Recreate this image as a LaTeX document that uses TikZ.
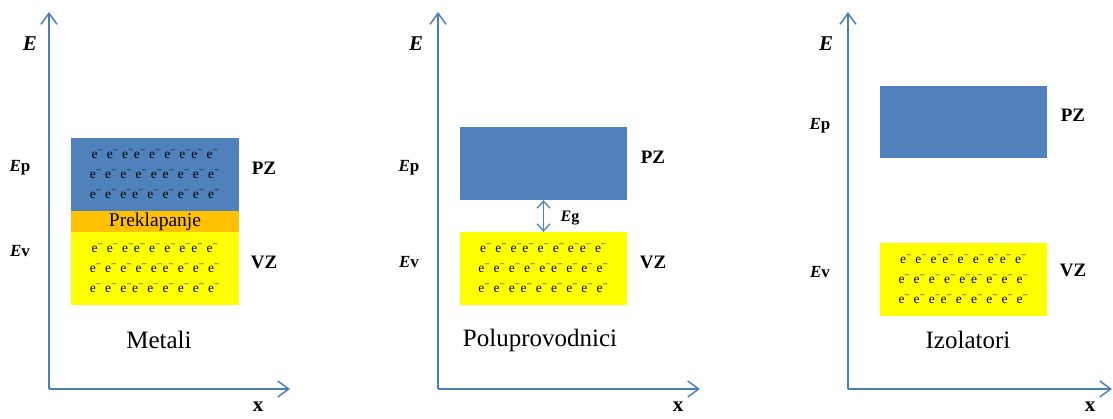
\documentclass[tikz,border=0pt]{standalone}
\usepackage{fontspec}
\setmainfont{Liberation Serif}
\usetikzlibrary{arrows.meta}
\definecolor{axiscol}{HTML}{4A7EBB}
\definecolor{bandblue}{HTML}{4F81BD}
\definecolor{ovlorange}{HTML}{FFC000}
\definecolor{valyellow}{HTML}{FFFF00}
\newcommand\el{e\textsuperscript{−}}
\newcommand\rowA{\el\ \el\ \el\el\ \el\ \el\ \el\el\ \el}
\newcommand\rowB{\el\ \el\ \el\ \el\ \el\el\ \el\ \el\ \el}
\newcommand\rowC{\el\ \el\ \el\el\ \el\ \el\ \el\ \el\ \el}
\newcommand\elrows{\rowA\\\rowB\\\rowC}
\begin{document}
\begin{tikzpicture}[x=1pt,y=-1pt,
  axisline/.style={draw=axiscol, line width=1.5pt, -{Straight Barb[length=11pt,width=16pt,line width=1.5pt]}},
  gaparrow/.style={draw=axiscol, line width=1.3pt, {Straight Barb[length=7pt,width=13pt,line width=1.3pt]}-{Straight Barb[length=7pt,width=13pt,line width=1.3pt]}},
  bandbox/.style={inner sep=0pt, minimum width=168pt, minimum height=73pt, align=center,
    font=\fontsize{13.5}{20}\selectfont},
  cband/.style={bandbox, fill=bandblue},
  vband/.style={bandbox, fill=valyellow},
  oband/.style={inner sep=0pt, minimum width=168pt, minimum height=21pt, fill=ovlorange,
    font=\fontsize{19.5}{20}\selectfont},
  axlabel/.style={font=\fontsize{21}{22}\selectfont\bfseries\itshape},
  xlabel/.style={font=\fontsize{21}{22}\selectfont\bfseries},
  elabel/.style={font=\fontsize{17}{18}\selectfont\bfseries},
  zlabel/.style={font=\fontsize{19}{20}\selectfont\bfseries},
  title/.style={font=\fontsize{25}{28}\selectfont}
]
\useasboundingbox (0,0) rectangle (1113,418);
\clip (0,0) rectangle (1113,418);

% ---------- Panel 1: Metali ----------
\coordinate (o1) at (49,389);
\coordinate (ytop1) at (49,12);
\coordinate (xend1) at (290,389);
\draw[axisline] (o1) -- (ytop1);
\draw[axisline] (o1) -- (xend1);
\node[cband] (c1) at (155,174.5) {\elrows};
\node[oband] (p1) at (155,221.5) {Preklapanje};
\node[vband] (v1) at (155,268.5) {\elrows};
\node[axlabel] (E1) at (30,44) {E};
\node[elabel] (Ep1) at (20,168) {\textit{E}p};
\node[elabel] (Ev1) at (20,251) {\textit{E}v};
\node[zlabel] (PZ1) at (264,168) {PZ};
\node[zlabel] (VZ1) at (264,262) {VZ};
\node[title] (t1) at (159,340) {Metali};
\node[xlabel] (x1) at (258,407) {x};

% ---------- Panel 2: Poluprovodnici ----------
\coordinate (o2) at (438,389);
\coordinate (ytop2) at (438,12);
\coordinate (xend2) at (700,389);
\draw[axisline] (o2) -- (ytop2);
\draw[axisline] (o2) -- (xend2);
\node[cband, minimum width=167pt] (c2) at (543.5,163.5) {};
\node[vband, minimum width=167pt] (v2) at (543.5,268.5) {\elrows};
\draw[gaparrow] (c2.south) -- (v2.north);
\node[elabel, font=\fontsize{16}{18}\selectfont\bfseries] (Eg) at (570,218) {\textit{E}g};
\node[axlabel] (E2) at (416,44) {E};
\node[elabel] (Ep2) at (409,168) {\textit{E}p};
\node[elabel] (Ev2) at (409,262) {\textit{E}v};
\node[zlabel] (PZ2) at (653,157) {PZ};
\node[zlabel] (VZ2) at (653,262) {VZ};
\node[title] (t2) at (540,340) {Poluprovodnici};
\node[xlabel] (x2) at (678,407) {x};

% ---------- Panel 3: Izolatori ----------
\coordinate (o3) at (848,389);
\coordinate (ytop3) at (848,12);
\coordinate (xend3) at (1112,389);
\draw[axisline] (o3) -- (ytop3);
\draw[axisline] (o3) -- (xend3);
\node[cband, minimum width=167pt, minimum height=72pt] (c3) at (963.5,121.5) {};
\node[vband, minimum width=167pt] (v3) at (963.5,279.5) {\elrows};
\node[axlabel] (E3) at (826,44) {E};
\node[elabel] (Ep3) at (820,126) {\textit{E}p};
\node[elabel] (Ev3) at (820,272) {\textit{E}v};
\node[zlabel] (PZ3) at (1073,115) {PZ};
\node[zlabel] (VZ3) at (1073,270) {VZ};
\node[title] (t3) at (968,340) {Izolatori};
\node[xlabel] (x3) at (1090,407) {x};
\end{tikzpicture}
\end{document}
